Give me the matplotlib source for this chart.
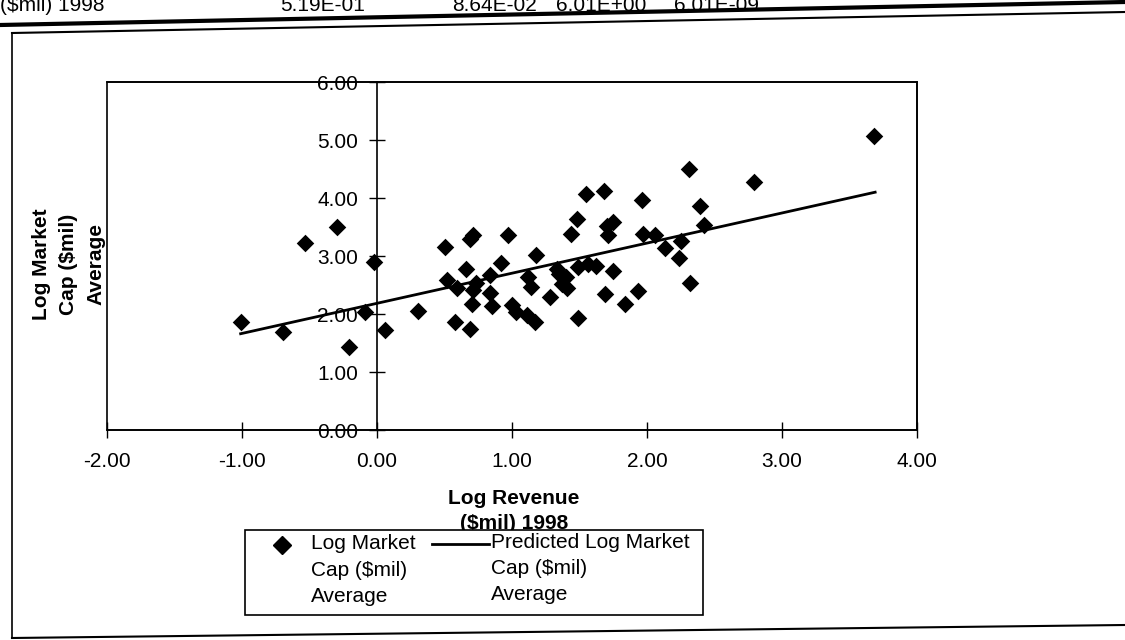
import numpy as np
import matplotlib
matplotlib.use("Agg")
import matplotlib.pyplot as plt
from matplotlib.lines import Line2D
from matplotlib.patches import Rectangle
from matplotlib.ticker import FormatStrFormatter

plt.rcParams['font.family'] = ['Liberation Sans', 'DejaVu Sans']
plt.rcParams['axes.unicode_minus'] = False

# ---------------- data ----------------
log_rev = [-1.01, -0.70, -0.53, -0.30, -0.21, -0.02, -0.09, 0.06, 0.30, 0.50,
           0.58, 0.69, 0.66, 0.69, 0.71, 0.52, 0.59, 0.70, 0.73, 0.71,
           0.84, 0.85, 0.84, 0.92, 0.97, 1.00, 1.03, 1.11, 1.17, 1.12,
           1.14, 1.18, 1.28, 1.33, 1.35, 1.40, 1.41, 1.37, 1.49, 1.49,
           1.56, 1.62, 1.75, 1.69, 1.84, 1.93, 1.44, 1.48, 1.55, 1.68,
           1.75, 1.70, 1.71, 1.96, 1.97, 2.06, 2.13, 2.24, 2.25, 2.32,
           2.31, 2.39, 2.42, 2.79, 3.68]
log_mcap = [1.86, 1.69, 3.23, 3.50, 1.43, 2.90, 2.04, 1.73, 2.05, 3.16,
            1.87, 1.74, 2.77, 3.29, 3.37, 2.59, 2.45, 2.17, 2.53, 2.41,
            2.37, 2.13, 2.68, 2.88, 3.36, 2.16, 2.04, 1.98, 1.86, 2.64,
            2.47, 3.01, 2.29, 2.78, 2.69, 2.63, 2.45, 2.51, 1.93, 2.81,
            2.86, 2.82, 2.74, 2.35, 2.18, 2.39, 3.38, 3.63, 4.07, 4.12,
            3.59, 3.51, 3.36, 3.96, 3.38, 3.36, 3.13, 2.97, 3.26, 2.53,
            4.50, 3.86, 3.53, 4.28, 5.07]

# predicted line end points
pred_x = [-1.01, 3.69]
pred_y = [1.66, 4.10]

xticks = [-2, -1, 0, 1, 2, 3, 4]
yticks = [0, 1, 2, 3, 4, 5, 6]

header_labels = ['($mil) 1998', '5.19E-01', '8.64E-02', '6.01E+00', '6.01E-09']
header_x = [0, 280, 452, 556, 674]

W, H = 1125, 640
def fx(px):
    return px / W
def fy(py):
    return 1 - py / H

fig = plt.figure(figsize=(W / 100, H / 100), dpi=100)
fig.patch.set_facecolor('white')

# ---------------- plot area ----------------
ax = fig.add_axes([fx(107), fy(430), 810 / W, 348 / H])
ax.scatter(log_rev, log_mcap, marker='D', s=80, color='black', linewidths=0, zorder=3)
ax.plot(pred_x, pred_y, color='black', lw=2, zorder=4)

ax.set_xlim(-2, 4)
ax.set_ylim(0, 6)
ax.set_xticks(xticks)
ax.set_yticks(yticks)
ax.xaxis.set_major_formatter(FormatStrFormatter('%.2f'))
ax.yaxis.set_major_formatter(FormatStrFormatter('%.2f'))
ax.spines['left'].set_position(('data', 0))
for s in ax.spines.values():
    s.set_linewidth(1.2)
ax.add_patch(Rectangle((0, 0), 1, 1, transform=ax.transAxes, fill=False,
                       lw=1.2, color='black', clip_on=False, zorder=5))
ax.tick_params(axis='both', direction='inout', length=11, width=1, labelsize=15, colors='black')
ax.tick_params(axis='x', pad=10)
ax.tick_params(axis='y', pad=8)

# axis titles
fig.text(fx(69), fy(264), 'Log Market\nCap ($mil)\nAverage', rotation=90, ha='center', va='center',
         multialignment='center', fontsize=15, fontweight='bold', linespacing=1.55)
fig.text(fx(514), fy(489), 'Log Revenue\n($mil) 1998', ha='center', va='top',
         multialignment='center', fontsize=15, fontweight='bold', linespacing=1.4)

# ---------------- legend (drawn over the lower part of the x title, as in the scan) ----------------
fig.add_artist(Rectangle((fx(245), fy(615)), 458 / W, 85 / H, transform=fig.transFigure,
                         facecolor='white', edgecolor='black', lw=1.2, zorder=10))
fig.add_artist(Line2D([fx(282)], [fy(545)], marker='D', ms=9, color='black', lw=0, zorder=11))
fig.text(fx(311), fy(534), 'Log Market\nCap ($mil)\nAverage', ha='left', va='top', fontsize=15,
         linespacing=1.5, zorder=11)
fig.add_artist(Line2D([fx(432), fx(489)], [fy(544), fy(544)], color='black', lw=2, zorder=11))
fig.text(fx(491), fy(533), 'Predicted Log Market\nCap ($mil)\nAverage', ha='left', va='top',
         fontsize=15, linespacing=1.45, zorder=11)

# ---------------- page decoration (scan) ----------------
for lbl, x in zip(header_labels, header_x):
    fig.text(fx(x), fy(11), lbl, ha='left', va='baseline', fontsize=15)
fig.add_artist(Line2D([fx(0), fx(W)], [fy(25), fy(2)], color='black', lw=3))
fig.add_artist(Line2D([fx(12), fx(W)], [fy(33), fy(12)], color='black', lw=1.5))
fig.add_artist(Line2D([fx(12), fx(12)], [fy(33), fy(638)], color='black', lw=1.2))
fig.add_artist(Line2D([fx(12), fx(W)], [fy(638), fy(625)], color='black', lw=1.5))

fig.savefig('out.png', dpi=100)
